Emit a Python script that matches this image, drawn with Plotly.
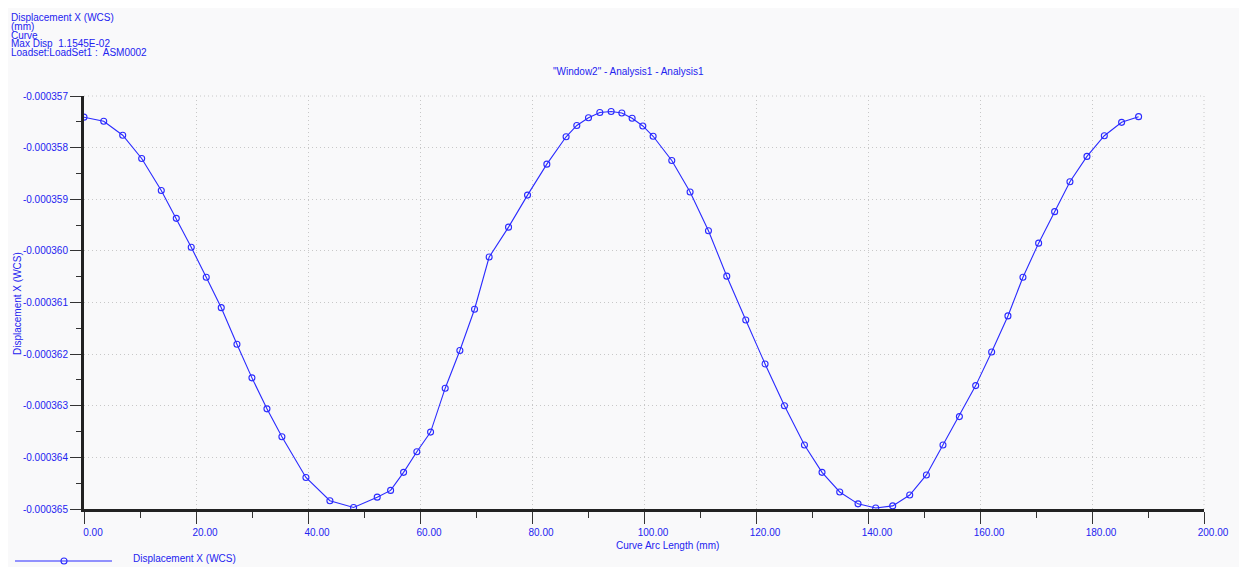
import plotly.graph_objects as go

# ---------------- data ----------------
arc_length_mm = [0, 3.52, 6.91, 10.30, 13.80, 16.48, 19.15, 21.83, 24.51, 27.31,
                 29.99, 32.67, 35.34, 39.63, 43.91, 48.14, 52.36, 54.75, 57.07, 59.44,
                 61.89, 64.50, 67.12, 69.74, 72.35, 75.81, 79.20, 82.65, 86.09, 88.00,
                 90.09, 92.11, 94.13, 96.04, 97.88, 99.79, 101.63, 104.96, 108.23, 111.51,
                 114.78, 118.17, 121.62, 125.08, 128.65, 131.79, 134.95, 138.22, 141.38, 144.41,
                 147.45, 150.43, 153.39, 156.32, 159.23, 162.08, 164.99, 167.67, 170.47, 173.33,
                 176.06, 179.10, 182.20, 185.29, 188.32]

# displacement values in units of 1e-6 mm
disp_x_micro = [-357.41, -357.49, -357.76, -358.21, -358.83, -359.37, -359.93, -360.51, -361.10, -361.81,
                -362.46, -363.06, -363.60, -364.39, -364.84, -364.97, -364.77, -364.64, -364.29, -363.89,
                -363.51, -362.66, -361.93, -361.13, -360.12, -359.54, -358.92, -358.32, -357.79, -357.57,
                -357.42, -357.32, -357.30, -357.33, -357.43, -357.58, -357.78, -358.25, -358.86, -359.61,
                -360.49, -361.34, -362.19, -363.00, -363.76, -364.29, -364.67, -364.90, -364.98, -364.94,
                -364.73, -364.34, -363.76, -363.21, -362.61, -361.96, -361.26, -360.51, -359.85, -359.24,
                -358.66, -358.17, -357.77, -357.51, -357.40]
disp_x = [v * 1e-6 for v in disp_x_micro]

y_tick_values = [-0.000365, -0.000364, -0.000363, -0.000362, -0.000361,
                 -0.000360, -0.000359, -0.000358, -0.000357]
y_tick_labels = ["-0.000365", "-0.000364", "-0.000363", "-0.000362", "-0.000361",
                 "-0.000360", "-0.000359", "-0.000358", "-0.000357"]

series_name = "Displacement X (WCS)"
chart_title = '"Window2" - Analysis1 - Analysis1'
x_title = "Curve Arc Length (mm)"
y_title = "Displacement X (WCS)"
header_lines = ["Displacement X (WCS)", "(mm)", "Curve",
                "Max Disp  1.1545E-02", "Loadset:LoadSet1 :  ASM0002"]

# ---------------- layout geometry (page pixels; page body has an 8px margin) ----------------
OFF = 8
W, H = 1239, 565
ML, MT = 84 - OFF, 96 - OFF
PLOT_R, PLOT_B = 1204 - OFF, 509 - OFF
MR, MB = W - PLOT_R, H - PLOT_B
PW, PH = W - ML - MR, H - MT - MB

def px_x(px):
    return (px - OFF - ML) / PW

def px_y(py):
    return 1 - (py - OFF - MT) / PH

BLUE = "#2a2aff"
TXT = "#2323f0"
FONT = "Liberation Sans, Arial, sans-serif"
BG = "#f9f9fa"
GRID = "#c8c8c8"
AXIS = "#222222"

fig = go.Figure()
fig.add_trace(go.Scatter(
    x=arc_length_mm, y=disp_x, mode="lines+markers", name=series_name,
    line=dict(color=BLUE, width=1.1),
    marker=dict(symbol="circle-open", size=6, color=BLUE, line=dict(width=1.1, color=BLUE)),
    showlegend=False,
))

annotations = []
for i, t in enumerate(header_lines):
    annotations.append(dict(text=t, xref="paper", yref="paper", x=px_x(9), y=px_y(17.5 + i * 8.8),
                            xanchor="left", yanchor="middle", showarrow=False,
                            font=dict(family=FONT, size=10, color=TXT)))
annotations.append(dict(text=chart_title, xref="paper", yref="paper", x=px_x(628), y=px_y(71),
                        xanchor="center", yanchor="middle", showarrow=False,
                        font=dict(family=FONT, size=10, color=TXT)))
annotations.append(dict(text=x_title, xref="paper", yref="paper", x=px_x(667), y=px_y(545),
                        xanchor="center", yanchor="middle", showarrow=False,
                        font=dict(family=FONT, size=10, color=TXT)))
annotations.append(dict(text=y_title, xref="paper", yref="paper", x=px_x(17), y=px_y(304),
                        xanchor="center", yanchor="middle", showarrow=False, textangle=-90,
                        font=dict(family=FONT, size=10, color=TXT)))
annotations.append(dict(text=series_name, xref="paper", yref="paper", x=px_x(131), y=px_y(558),
                        xanchor="left", yanchor="middle", showarrow=False,
                        font=dict(family=FONT, size=10, color=TXT)))

shapes = [
    dict(type="line", xref="paper", yref="paper", x0=px_x(15), x1=px_x(112), y0=px_y(561), y1=px_y(561),
         line=dict(color=BLUE, width=1.1)),
    dict(type="circle", xref="paper", yref="paper", x0=px_x(61), x1=px_x(67), y0=px_y(558), y1=px_y(564),
         line=dict(color=BLUE, width=1.1), fillcolor="rgba(0,0,0,0)"),
    dict(type="line", xref="paper", yref="paper", x0=0, x1=1, y0=1, y1=1,
         line=dict(color=GRID, width=1, dash="1px,3px"), layer="below"),
    dict(type="line", xref="paper", yref="paper", x0=1, x1=1, y0=0, y1=1,
         line=dict(color=GRID, width=1, dash="1px,3px"), layer="below"),
]

fig.update_layout(
    width=W, height=H,
    margin=dict(l=ML, r=MR, t=MT, b=MB, pad=0),
    paper_bgcolor=BG, plot_bgcolor=BG,
    font=dict(family=FONT, size=10, color=TXT),
    annotations=annotations, shapes=shapes,
    showlegend=False,
    xaxis=dict(
        range=[0, 200], tick0=0, dtick=20, tickformat=".2f",
        showline=True, linecolor=AXIS, linewidth=3,
        ticks="outside", ticklen=12, tickwidth=1, tickcolor="#333333",
        showgrid=True, gridcolor=GRID, griddash="1px,3px", gridwidth=1,
        zeroline=False, ticklabelshift=9,
        tickfont=dict(family=FONT, size=10, color=TXT),
        minor=dict(dtick=10, ticks="outside", ticklen=6, tickwidth=1, tickcolor="#333333", showgrid=False),
    ),
    yaxis=dict(
        range=[-0.000365, -0.000357], tickmode="array",
        tickvals=y_tick_values, ticktext=y_tick_labels,
        showline=True, linecolor=AXIS, linewidth=3,
        ticks="outside", ticklen=11, tickwidth=1, tickcolor="#333333",
        showgrid=True, gridcolor=GRID, griddash="1px,3px", gridwidth=1,
        zeroline=False,
        tickfont=dict(family=FONT, size=10, color=TXT),
        minor=dict(tick0=-0.000365, dtick=5e-7, ticks="outside", ticklen=5, tickwidth=1,
                   tickcolor="#333333", showgrid=False),
    ),
)

fig.write_html("out.html")
